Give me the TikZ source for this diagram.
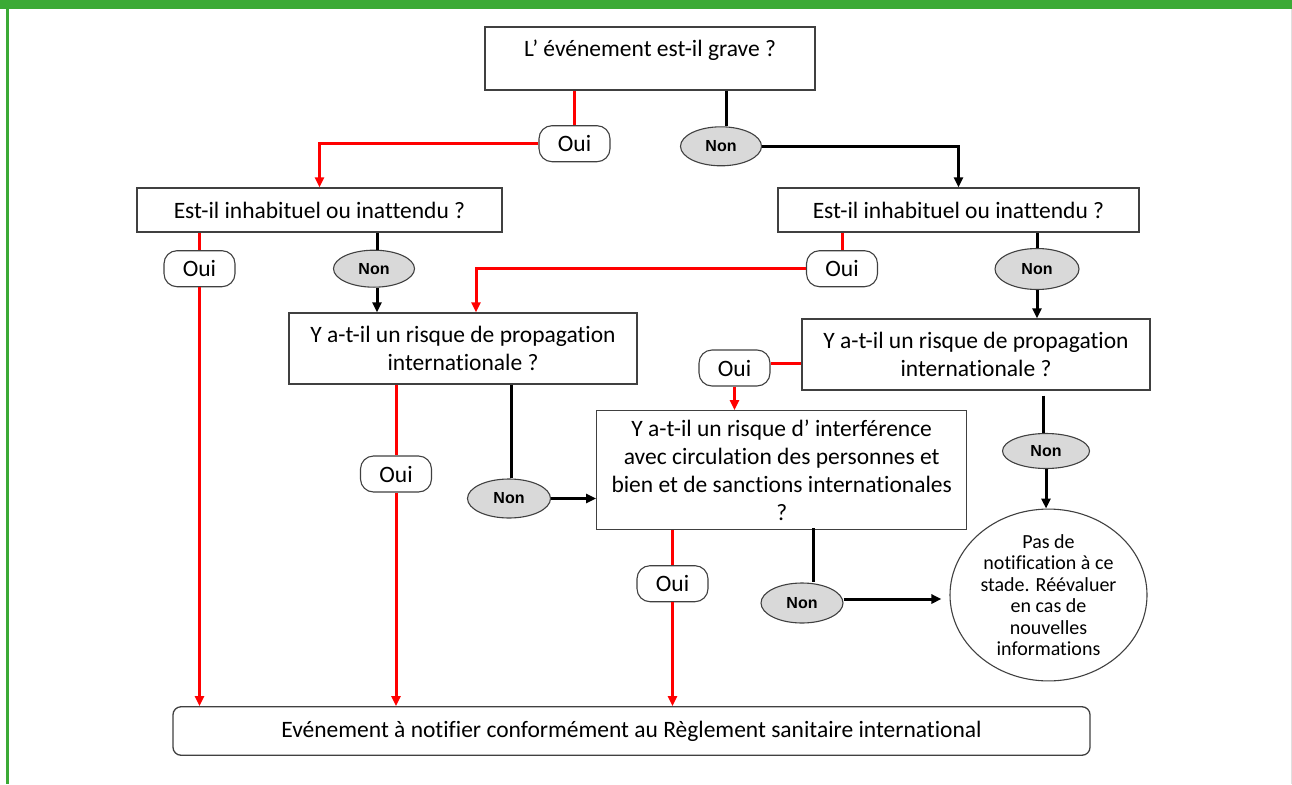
\documentclass[tikz,border=0pt]{standalone}
\usepackage{fontspec}
\setmainfont{Carlito}[Ligatures=NoCommon]
\newfontfamily\nonfont{Liberation Sans}
\usetikzlibrary{arrows.meta,shapes.geometric,calc}
\definecolor{framegreen}{HTML}{3BAA35}
\definecolor{edgegray}{HTML}{404040}
\definecolor{nonfill}{HTML}{D9D9D9}
\tikzset{
  qbox/.style={draw=edgegray, line width=1.3pt, fill=white, inner sep=0pt,
    align=center, font=\fontsize{23.5}{28}\selectfont},
  ouilbl/.style={draw=edgegray, line width=1.1pt, fill=white, rounded corners=13pt,
    inner sep=0pt, minimum width=71pt, minimum height=36pt,
    font=\fontsize{23.5}{26}\selectfont},
  nonlbl/.style={ellipse, draw=edgegray, line width=1.1pt, fill=nonfill, inner sep=0pt,
    font=\nonfont\bfseries\fontsize{16}{18}\selectfont},
  yes/.style={draw=red, line width=3pt},
  no/.style={draw=black, line width=3pt},
  arr/.style={-{Triangle[length=10pt,width=9pt]}},
}
\begin{document}
\begin{tikzpicture}[x=1pt,y=-1pt]
\useasboundingbox (0,0) rectangle (1292,784);
% frame
\fill[framegreen] (0,0) rectangle (1292,9);
\fill[framegreen] (6,0) rectangle (9,784);
\fill[black!12] (1290.5,9) rectangle (1292,784);

% questions
\node[qbox, minimum width=330pt, minimum height=63pt, text height=16pt, text depth=21pt]
  (q1) at (650,58.6) {L’ événement est-il grave ?};
\node[qbox, minimum width=365pt, minimum height=44pt] (q2) at (319.5,210) {Est-il inhabituel ou inattendu ?};
\node[qbox, minimum width=361pt, minimum height=44pt] (q3) at (958.5,210) {Est-il inhabituel ou inattendu ?};
\node[qbox, minimum width=348pt, minimum height=71pt] (q4) at (463,348.5)
  {Y a-t-il un risque de propagation\\internationale ?};
\node[qbox, minimum width=348pt, minimum height=71pt] (q5) at (976,354.5)
  {Y a-t-il un risque de propagation\\internationale ?};
\node[qbox, minimum width=370pt, minimum height=119pt] (q6) at (781.7,470.3)
  {Y a-t-il un risque d’ interférence\\avec circulation des personnes et\\bien et de sanctions internationales\\?};

% outcomes
\node[ellipse, draw=edgegray, line width=1.1pt, fill=white, inner sep=0pt,
  minimum width=197pt, minimum height=160pt, align=center,
  font=\fontsize{20}{21.5}\selectfont] (circ) at (1048.5,595)
  {Pas de\\notification à ce\\stade. Réévaluer\\en cas de\\nouvelles\\informations};
\node[qbox, rounded corners=8pt, minimum width=917pt, minimum height=48.5pt] (fin) at (631.5,731)
  {Evénement à notifier conformément au Règlement sanitaire international};

% answer labels
\node[ouilbl] (o1) at (574.5,143.7) {Oui};
\node[ouilbl] (o2) at (199.5,268.7) {Oui};
\node[ouilbl] (o3) at (842,268.7) {Oui};
\node[ouilbl] (o4) at (734.5,368) {Oui};
\node[ouilbl] (o5) at (396,474) {Oui};
\node[ouilbl] (o6) at (672.5,583.7) {Oui};

\node[nonlbl, minimum width=81pt, minimum height=39pt] (n1) at (721,146.3) {Non};
\node[nonlbl, minimum width=81pt, minimum height=37pt] (n2) at (374,268.7) {Non};
\node[nonlbl, minimum width=84pt, minimum height=41pt] (n3) at (1037,269) {Non};
\node[nonlbl, minimum width=87pt, minimum height=35pt] (n4) at (1046,451) {Non};
\node[nonlbl, minimum width=83pt, minimum height=39pt] (n5) at (509,498.5) {Non};
\node[nonlbl, minimum width=82pt, minimum height=40pt] (n6) at (802,603) {Non};

% "Oui" branches
\draw[yes] (q1.south -| o1.north) -- (o1.north);
\draw[yes,arr] (o1.west) -| (q2.north);
\draw[yes] (q2.south -| o2.north) -- (o2.north);
\draw[yes,arr] (o2.south) -- (fin.north -| o2.south);
\draw[yes] (q3.south -| o3.north) -- (o3.north);
\draw[yes,arr] (o3.west) -| ([xshift=13pt]q4.north);
\draw[yes] ([yshift=5pt]o4.east) -- ([yshift=5pt]o4.east -| q5.west);
\draw[yes,arr] (o4.south) -- (q6.north -| o4.south);
\draw[yes] (q4.south -| o5.north) -- (o5.north);
\draw[yes,arr] (o5.south) -- (fin.north -| o5.south);
\draw[yes] (q6.south -| o6.north) -- (o6.north);
\draw[yes,arr] (o6.south) -- (fin.north -| o6.south);

% "Non" branches
\draw[no] ([xshift=5pt]q1.south -| n1.north) -- ([xshift=5pt]n1.north);
\draw[no,arr] (n1.east) -| (q3.north);
\draw[no] ([xshift=3pt]q2.south -| n2.north) -- ([xshift=3pt]n2.north);
\draw[no,arr] ([xshift=3pt]n2.south) -- ([xshift=3pt]q4.north -| n2.south);
\draw[no] (q3.south -| n3.north) -- (n3.north);
\draw[no,arr] (n3.south) -- (q5.north -| n3.south);
\draw[no] ([xshift=2pt]q4.south -| n5.north) -- ([xshift=2pt]n5.north);
\draw[no,arr] (n5.east) -- (q6.west |- n5.east);
\draw[no] ([yshift=-5pt,xshift=-3pt]q5.south -| n4.north) -- ([xshift=-3pt]n4.north);
\draw[no,arr] (n4.south) -- (circ.north -| n4.south);
\draw[no] ([yshift=2pt,xshift=11pt]q6.south -| n6.north) -- ([xshift=11pt]n6.north);
\draw[no,arr,shorten >=8pt] ([yshift=4pt]n6.east) -- ([yshift=4pt]circ.west |- n6.east);
\end{tikzpicture}
\end{document}
